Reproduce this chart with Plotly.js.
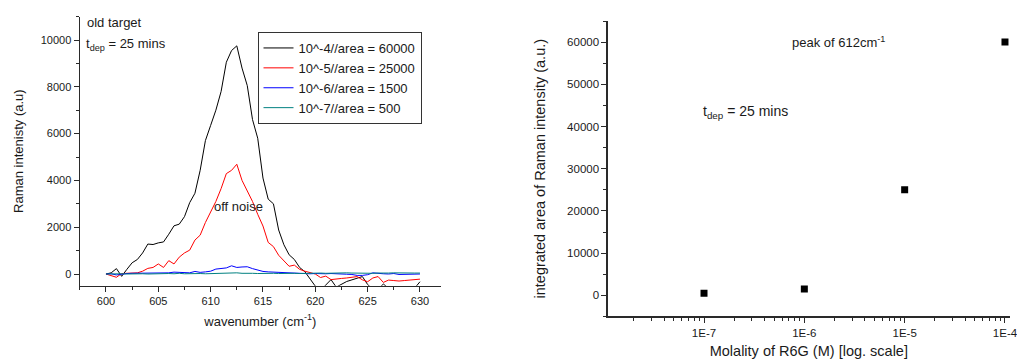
<!DOCTYPE html>
<html>
<head>
<meta charset="utf-8">
<script src="https://cdn.plot.ly/plotly-3.0.1.min.js"></script>
<style>html,body{margin:0;padding:0;background:#fff;}#chart{width:1017px;height:360px;}</style>
</head>
<body>
<div id="chart"></div>
<script>
// ---- Left panel: Raman spectra ----
const wavenumber = [600,600.5,601,601.5,602,602.5,603,603.5,604,604.5,605,605.5,606,606.5,607,607.5,608,608.5,609,609.5,610,610.5,611,611.5,612,612.5,613,613.5,614,614.5,615,615.5,616,616.5,617,617.5,618,618.5,619,619.5,620,620.5,621,621.5,622,622.5,623,623.5,624,624.5,625,625.5,626,626.5,627,627.5,628,628.5,629,629.5,630];
const spec1e4 = [0,50,230,-100,200,480,620,900,1280,1260,1330,1370,1700,2060,2130,2450,3050,3450,4430,5700,6350,7000,7800,9050,9550,9750,8800,8050,6600,5800,4100,3200,3000,1880,1250,820,620,280,100,-200,-520,-700,-450,-240,-560,-430,-320,-250,-170,-110,-450,-650,-650,-430,-600,-800,-800,-800,-700,-600,-330];
const spec1e5 = [0,-60,-140,20,40,50,50,120,240,280,430,280,570,430,720,900,1020,1450,1660,2200,2650,3100,3650,4290,4430,4690,4000,3550,3100,2550,2050,1350,1170,800,560,330,380,200,120,60,0,-150,-90,-240,-200,-190,-170,-150,-110,-250,-330,-170,-110,-360,-260,-280,-300,-280,-260,-240,-220];
const spec1e6 = [0,10,-40,0,20,30,30,40,40,50,40,60,50,80,60,40,50,110,70,90,120,210,230,260,350,280,300,310,230,160,110,90,80,60,70,50,40,30,20,10,20,0,10,20,0,10,-10,-20,-60,-60,-30,50,20,10,0,20,-20,-10,0,10,0];
const spec1e7 = [0,10,0,10,0,10,0,10,0,10,20,10,20,10,30,10,20,10,20,10,20,30,20,40,30,50,30,40,30,20,30,20,30,20,30,20,30,20,30,30,30,40,30,40,30,40,50,40,30,30,40,30,40,30,40,50,40,30,40,40,40];
const seriesNames = ["10^-4//area = 60000","10^-5//area = 25000","10^-6//area = 1500","10^-7//area = 500"];
const seriesColors = ["#000000","#ff0000","#0000ff","#008080"];
const leftXTicks = [600,605,610,615,620,625,630];
const leftYTicks = [0,2000,4000,6000,8000,10000];

// ---- Right panel: integrated area vs molality ----
const molality = [1e-7,1e-6,1e-5,1e-4];
const integratedArea = [500,1500,25000,60000];
const rightXTickVals = [1e-7,1e-6,1e-5,1e-4];
const rightXTickText = ["1E-7","1E-6","1E-5","1E-4"];
const rightYTicks = [0,10000,20000,30000,40000,50000,60000];

const FONT = "Liberation Sans, Arial, sans-serif";
const TXT = "#1a1a1a";
const AX = "#2a2a2a";

const specs = [spec1e4, spec1e5, spec1e6, spec1e7];
const traces = specs.map((s, i) => ({
  type: "scatter", mode: "lines", x: wavenumber, y: s,
  name: seriesNames[i], line: {color: seriesColors[i], width: 1},
  xaxis: "x", yaxis: "y", showlegend: true
}));
traces.push({
  type: "scatter", mode: "markers", x: molality, y: integratedArea,
  marker: {symbol: "square", size: 7, color: "#000"},
  xaxis: "x2", yaxis: "y2", showlegend: false
});

// minor tick positions for the log axis (2..9 of each decade)
const logMinor = [];
for (let e = -8; e <= -5; e++) for (let m = 2; m <= 9; m++) logMinor.push(m * Math.pow(10, e));

const axisBase = {
  showline: true, linecolor: AX, linewidth: 1.3, mirror: false,
  showgrid: false, zeroline: false, automargin: false,
  ticks: "outside", ticklen: 5, tickwidth: 1, tickcolor: AX,
  tickfont: {family: FONT, size: 11, color: TXT},
  ticklabeloverflow: "allow"
};

const layout = {
  width: 1017, height: 360,
  margin: {l: 0, r: 0, t: 0, b: 0},
  paper_bgcolor: "#fff", plot_bgcolor: "#fff",
  font: {family: FONT, color: TXT},
  showlegend: true,
  legend: {
    x: 257.5/1017, y: (360-32)/360, xanchor: "left", yanchor: "top",
    bgcolor: "#fff", bordercolor: "#333", borderwidth: 1,
    font: {family: FONT, size: 13, color: TXT}
  },
  xaxis: Object.assign({}, axisBase, {
    domain: [79.8/1017, 440.9/1017], anchor: "y",
    range: [597.5, 632], tickmode: "array", tickvals: leftXTicks, tickformat: "d",
    title: {text: "wavenumber (cm<sup>-1</sup>)", font: {family: FONT, size: 13, color: TXT}, standoff: 10},
    minor: {dtick: 2.5, tick0: 597.5, ticks: "outside", ticklen: 3, tickcolor: AX}
  }),
  yaxis: Object.assign({}, axisBase, {
    domain: [74.3/360, 343.4/360], anchor: "x",
    range: [-500, 11000], tickmode: "array", tickvals: leftYTicks, tickformat: "d",
    title: {text: "Raman intenisty (a.u)", font: {family: FONT, size: 13, color: TXT}, standoff: 14},
    minor: {dtick: 1000, tick0: 0, ticks: "outside", ticklen: 3, tickcolor: AX}
  }),
  xaxis2: Object.assign({}, axisBase, {
    domain: [607.7/1017, 1010/1017], anchor: "y2", type: "log",
    range: [-7.96, -3.95], tickmode: "array", tickvals: rightXTickVals, ticktext: rightXTickText,
    tickfont: {family: FONT, size: 11.5, color: TXT},
    title: {text: "Molality of R6G (M) [log. scale]", font: {family: FONT, size: 14.5, color: TXT}, standoff: 8},
    minor: {tickmode: "array", tickvals: logMinor, ticks: "outside", ticklen: 3, tickcolor: AX}
  }),
  yaxis2: Object.assign({}, axisBase, {
    domain: [43.6/360, 339/360], anchor: "x2",
    range: [-5000, 65000], tickmode: "array", tickvals: rightYTicks, tickformat: "d",
    tickfont: {family: FONT, size: 11.5, color: TXT},
    title: {text: "integrated area of Raman intensity (a.u.)", font: {family: FONT, size: 14.5, color: TXT}, standoff: 18},
    minor: {dtick: 5000, tick0: 0, ticks: "outside", ticklen: 3, tickcolor: AX}
  }),
  annotations: [
    {xref: "paper", yref: "paper", x: 85/1017, y: 1-22.5/360, text: "old target", showarrow: false, xanchor: "left", yanchor: "middle", font: {size: 13}},
    {xref: "paper", yref: "paper", x: 84/1017, y: 1-44.5/360, text: "t<sub>dep</sub> = 25 mins", showarrow: false, xanchor: "left", yanchor: "middle", font: {size: 13}},
    {xref: "paper", yref: "paper", x: 212/1017, y: 1-206/360, text: "off noise", showarrow: false, xanchor: "left", yanchor: "middle", font: {size: 13}},
    {xref: "paper", yref: "paper", x: 790/1017, y: 1-42/360, text: "peak of 612cm<sup>-1</sup>", showarrow: false, xanchor: "left", yanchor: "middle", font: {size: 13}},
    {xref: "paper", yref: "paper", x: 701/1017, y: 1-112/360, text: "t<sub>dep</sub> = 25 mins", showarrow: false, xanchor: "left", yanchor: "middle", font: {size: 14}}
  ]
};

Plotly.newPlot("chart", traces, layout, {displayModeBar: false, staticPlot: true});
</script>
</body>
</html>
